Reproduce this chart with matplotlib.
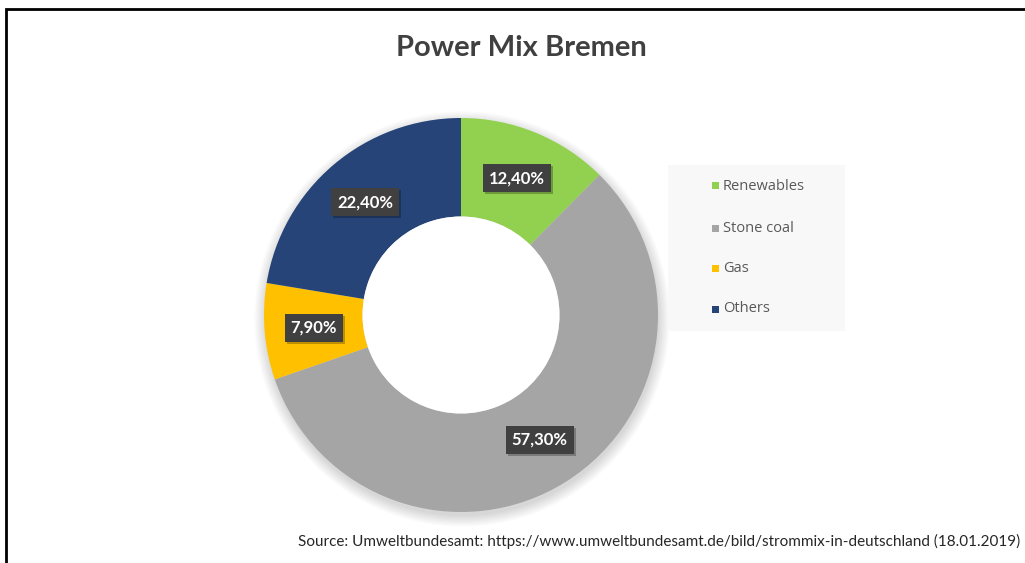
import matplotlib
matplotlib.use("Agg")
import matplotlib.pyplot as plt
import matplotlib.patches as mpatches
import matplotlib.transforms as mtransforms
import numpy as np

# Data
categories = ["Renewables", "Stone coal", "Gas", "Others"]
shares = [12.4, 57.3, 7.9, 22.4]
value_labels = ["12,40%", "57,30%", "7,90%", "22,40%"]
colors = ["#92D050", "#A5A5A5", "#FFC000", "#264478"]

title = "Power Mix Bremen"
source = "Source: Umweltbundesamt: https://www.umweltbundesamt.de/bild/strommix-in-deutschland (18.01.2019)"

W, H = 1025, 563
fig = plt.figure(figsize=(W / 100, H / 100), dpi=100)
fig.patch.set_facecolor("white")


def fx(x):
    return x / W


def fy(y):
    return 1 - y / H


# Outer frame (runs off the right and bottom edges)
fig.patches.append(mpatches.Rectangle((fx(6), fy(600)), fx(1100), fy(9) - fy(600),
                                      transform=fig.transFigure, fill=False,
                                      edgecolor="black", linewidth=2.0, zorder=0))

# Donut axes: centre (461, 315) px, outer radius 197 px
cx, cy, r = 461, 315, 197
lim = 1.15
half = r * lim
ax = fig.add_axes([fx(cx - half), fy(cy + half), 2 * half / W, 2 * half / H])
ax.set_xlim(-lim, lim)
ax.set_ylim(-lim, lim)
ax.set_aspect("equal")
ax.axis("off")

# soft shadow under the ring
for k in range(10):
    ax.add_patch(mpatches.Circle((0.005, -0.02), 1.0 + 0.006 * k, facecolor="black",
                                 alpha=0.014, edgecolor="none", zorder=0))

wedges, _ = ax.pie(shares, colors=colors, startangle=90, counterclock=False,
                   radius=1.0, wedgeprops=dict(width=0.5, edgecolor="none"))
for w in wedges:
    w.set_zorder(2)
ax.add_patch(mpatches.Circle((0, 0), 0.5, facecolor="white", edgecolor="none", zorder=3))
ax.set_xlim(-lim, lim)
ax.set_ylim(-lim, lim)

# Value labels in dark boxes at the middle of each segment
cum = np.cumsum([0] + shares[:-1])
for start, val, lab in zip(cum, shares, value_labels):
    ang = np.deg2rad(90 - (start + val / 2) * 3.6)
    x, y = 0.75 * np.cos(ang), 0.75 * np.sin(ang)
    shadow = mtransforms.offset_copy(ax.transData, fig=fig, x=2, y=-2, units="dots")
    ax.text(x, y, lab, transform=shadow, ha="center", va="center", fontsize=12,
            fontweight="bold", family="Lato", color="none", zorder=4,
            bbox=dict(boxstyle="square,pad=0.36", facecolor="#000000", alpha=0.25,
                      edgecolor="none"))
    ax.text(x, y, lab, ha="center", va="center", fontsize=12, fontweight="bold",
            family="Lato", color="white", zorder=5,
            bbox=dict(boxstyle="square,pad=0.36", facecolor="#404040", edgecolor="none"))

# Title
fig.text(fx(521), fy(48), title, ha="center", va="center", fontsize=21,
         fontweight="bold", family="Lato", color="#404040")

# Legend panel
fig.patches.append(mpatches.Rectangle((fx(668), fy(331)), fx(845) - fx(668), fy(165) - fy(331),
                                      transform=fig.transFigure, facecolor="#F8F8F8",
                                      edgecolor="none", zorder=1))
rows = [186, 228, 268, 309]
for cat, col, yy in zip(categories, colors, rows):
    fig.patches.append(mpatches.Rectangle((fx(712), fy(yy + 3.5)), 7 / W, 7 / H,
                                          transform=fig.transFigure, facecolor=col,
                                          edgecolor="none", zorder=2))
    fig.text(fx(723), fy(yy), cat, ha="left", va="center", fontsize=10.5,
             family="Open Sans", color="#595959")

# Source line
fig.text(fx(1020), fy(541), source, ha="right", va="center", fontsize=10.95,
         family="Lato", color="#262626")

fig.savefig("out.png", dpi=100, facecolor="white")
